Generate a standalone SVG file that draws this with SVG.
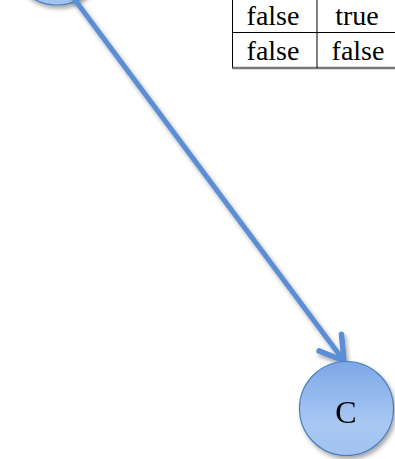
<svg xmlns="http://www.w3.org/2000/svg" width="395" height="459" viewBox="0 0 395 459">
<style>
.node{stroke:#4a7ebb;stroke-width:1.2;fill:url(#g)}
.lbl{font-family:"Liberation Serif","Times New Roman",serif;font-size:32px;fill:#000;text-anchor:middle}
.cell{font-family:"Liberation Serif","Times New Roman",serif;font-size:28px;fill:#000;text-anchor:middle}
.edge{stroke:#5b8ed6;stroke-width:5;fill:none;stroke-linecap:round;stroke-linejoin:round}
.grid{stroke:#000;stroke-width:1;fill:none}
</style>
<defs>
<linearGradient id="g" x1="0" y1="0" x2="0" y2="1">
<stop offset="0" stop-color="#7ca7e7"/>
<stop offset="0.65" stop-color="#a8c8f3"/>
<stop offset="1" stop-color="#a2c3f1"/>
</linearGradient>
<filter id="sh" x="-30%" y="-30%" width="160%" height="160%">
<feDropShadow dx="2" dy="3" stdDeviation="2" flood-color="#000" flood-opacity="0.35"/>
</filter>
<marker id="arr" markerUnits="userSpaceOnUse" orient="auto" markerWidth="60" markerHeight="60" refX="0" refY="0" viewBox="-40 -30 60 60" overflow="visible">
<path d="M -23 -14 L 0 0 L -23 14" stroke="#5b8ed6" stroke-width="5.5" fill="none" stroke-linecap="round" stroke-linejoin="round"/>
</marker>
</defs>
<g id="table">
<rect x="232.5" y="-4" width="166" height="72" class="grid"/>
<line x1="232.5" y1="68" x2="398" y2="68" stroke="#777" stroke-width="2.5"/>
<line x1="232.5" y1="32.5" x2="398" y2="32.5" class="grid"/>
<line x1="317" y1="-4" x2="317" y2="68" class="grid"/>
<text x="273" y="25" class="cell">false</text>
<text x="357" y="25" class="cell">true</text>
<text x="273" y="60" class="cell">false</text>
<text x="358" y="60" class="cell">false</text>
</g>
<g id="node-A" filter="url(#sh)">
<circle cx="57" cy="-42" r="47" class="node"/>
</g>
<g id="connectors" filter="url(#sh)">
<line x1="72" y1="-4" x2="344" y2="361" class="edge" marker-end="url(#arr)"/>
</g>
<g id="node-C" filter="url(#sh)">
<circle cx="346.5" cy="408.5" r="47" class="node"/>
<text x="346" y="423" class="lbl">C</text>
</g>
</svg>
